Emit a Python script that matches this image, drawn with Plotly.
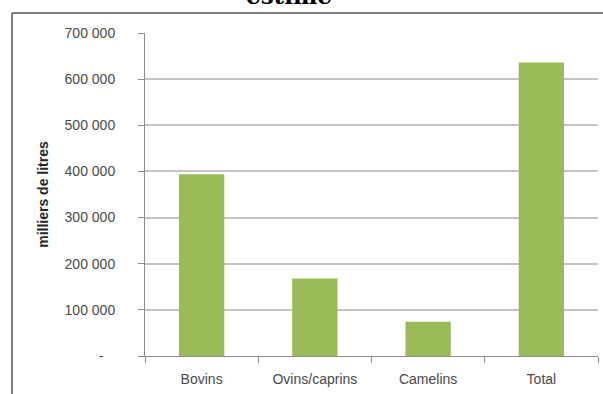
import plotly.graph_objects as go

# Milk production by livestock type (thousands of litres)
categories = ["Bovins", "Ovins/caprins", "Camelins", "Total"]
values = [394000, 168000, 74000, 636000]

tick_vals = [0, 100000, 200000, 300000, 400000, 500000, 600000, 700000]
tick_text = ["-\u00a0\u00a0\u00a0", "100 000", "200 000", "300 000",
             "400 000", "500 000", "600 000", "700 000"]

fig = go.Figure(
    go.Bar(
        x=categories,
        y=values,
        marker=dict(color="#9BBB59", line=dict(width=0)),
        hoverinfo="x+y",
    )
)

label_font = dict(family="Liberation Sans", size=14, color="#4a4a4a")

fig.update_layout(
    width=603,
    height=394,
    margin=dict(l=145, r=5, t=33, b=38),
    paper_bgcolor="white",
    plot_bgcolor="white",
    bargap=0.6,
    showlegend=False,
    xaxis=dict(
        showgrid=False,
        showline=True,
        linecolor="#8c8c8c",
        linewidth=1,
        ticks="outside",
        tickson="boundaries",
        ticklen=6,
        tickcolor="#8c8c8c",
        tickfont=label_font,
        ticklabelstandoff=10,
    ),
    yaxis=dict(
        range=[0, 700000],
        tickvals=tick_vals,
        ticktext=tick_text,
        showgrid=True,
        gridcolor="#c4c4c4",
        gridwidth=2,
        zeroline=False,
        showline=True,
        linecolor="#8c8c8c",
        linewidth=1,
        ticks="outside",
        ticklen=6,
        tickcolor="#8c8c8c",
        tickfont=label_font,
        ticklabelstandoff=20,
        title=dict(
            text="<b>milliers de litres</b>",
            font=dict(family="Liberation Sans", size=14, color="#262626"),
            standoff=12,
        ),
    ),
)

# Outer chart frame (left and top edges)
frame_color = "#7f7f7f"
fig.add_shape(type="line", xref="paper", yref="paper",
              x0=-0.2936, x1=-0.2936, y0=1.0619, y1=-0.3,
              line=dict(color=frame_color, width=2))
fig.add_shape(type="line", xref="paper", yref="paper",
              x0=-0.2936, x1=1.1, y0=1.0619, y1=1.0619,
              line=dict(color=frame_color, width=2))

# Title, mostly cut off at the top of the frame
fig.add_annotation(
    text="<b>estime</b>",
    xref="paper", yref="paper",
    x=0.318, y=1.067,
    xanchor="center", yanchor="bottom",
    showarrow=False,
    font=dict(family="DejaVu Serif", size=23, color="black"),
)

fig.write_html("out.html")
